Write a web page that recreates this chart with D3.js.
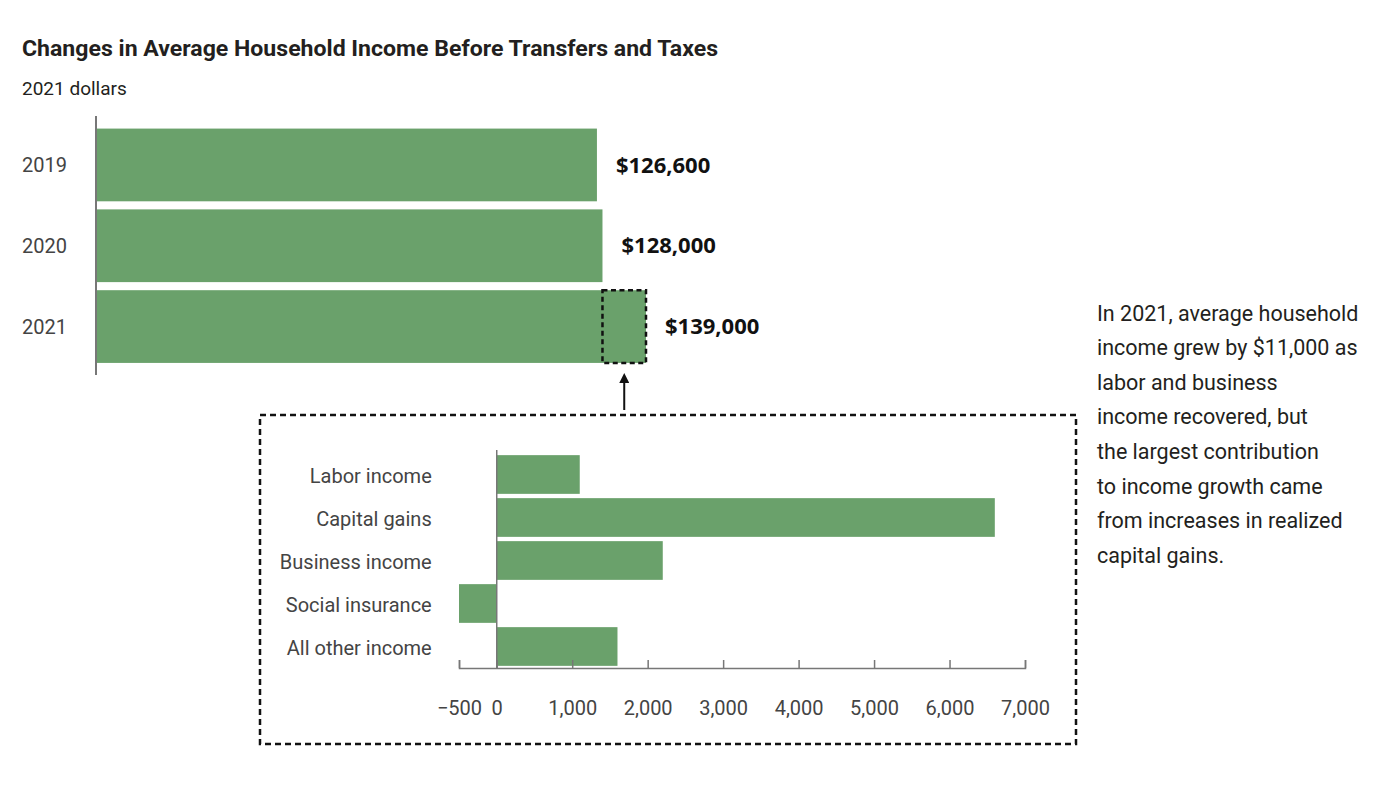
<!DOCTYPE html>
<html>
<head>
<meta charset="utf-8">
<script src="https://cdn.jsdelivr.net/npm/d3@7"></script>
<style>
  body { margin: 0; background: #fff; }
  svg text { font-family: Roboto, "Open Sans", sans-serif; }
</style>
</head>
<body>
<svg id="chart" width="1386" height="786"></svg>
<script>
// top chart: average household income, 2021 dollars
const years = ["2019", "2020", "2021"];
const incomes = [126600, 128000, 139000];
const valueLabels = ["$126,600", "$128,000", "$139,000"];

// bottom chart: contributions to the 2021 change
const sources = ["Labor income", "Capital gains", "Business income", "Social insurance", "All other income"];
const changes = [1100, 6600, 2200, -500, 1600];
const changeTicks = [-500, 0, 1000, 2000, 3000, 4000, 5000, 6000, 7000];

const note = [
  "In 2021, average household",
  "income grew by $11,000 as",
  "labor and business",
  "income recovered, but",
  "the largest contribution",
  "to income growth came",
  "from increases in realized",
  "capital gains."
];

const green = "#6aa16b";
const axisGrey = "#777";

const svg = d3.select("#chart");

// titles
svg.append("text")
    .attr("x", 22).attr("y", 56)
    .attr("font-size", 22).attr("font-weight", 700)
    .attr("fill", "#231f20")
    .attr("textLength", 696).attr("lengthAdjust", "spacingAndGlyphs")
    .text("Changes in Average Household Income Before Transfers and Taxes");

svg.append("text")
    .attr("x", 22).attr("y", 95)
    .attr("font-size", 19)
    .attr("fill", "#231f20")
    .text("2021 dollars");

// ---- top bars
const xTop = d3.scaleLinear().domain([0, 139000]).range([96, 646]);
const yTop = d3.scaleBand().domain(years).range([120.5, 371]).paddingInner(0.1).paddingOuter(0.1);

const topG = svg.append("g");

topG.selectAll("rect.bar")
  .data(years)
  .join("rect")
    .attr("class", "bar")
    .attr("x", xTop(0))
    .attr("y", d => yTop(d))
    .attr("width", (d, i) => xTop(incomes[i]) - xTop(0))
    .attr("height", yTop.bandwidth())
    .attr("fill", green);

topG.append("line")
    .attr("x1", xTop(0)).attr("x2", xTop(0))
    .attr("y1", 116).attr("y2", 375)
    .attr("stroke", axisGrey).attr("stroke-width", 2);

topG.selectAll("text.year")
  .data(years)
  .join("text")
    .attr("class", "year")
    .attr("x", 22)
    .attr("y", d => yTop(d) + yTop.bandwidth() / 2)
    .attr("dy", "0.35em")
    .attr("font-size", 20)
    .attr("fill", "#444")
    .text(d => d);

topG.selectAll("text.value")
  .data(years)
  .join("text")
    .attr("class", "value")
    .attr("x", (d, i) => xTop(incomes[i]) + 19)
    .attr("y", d => yTop(d) + yTop.bandwidth() / 2)
    .attr("dy", "0.35em")
    .attr("font-size", 22).attr("font-weight", 700)
    .style("font-family", "'Open Sans', sans-serif")
    .attr("fill", "#111")
    .text((d, i) => valueLabels[i]);

// highlighted growth 2020 -> 2021
const hx0 = xTop(incomes[1]), hx1 = xTop(incomes[2]);
topG.append("rect")
    .attr("x", hx0).attr("y", yTop("2021"))
    .attr("width", hx1 - hx0).attr("height", yTop.bandwidth())
    .attr("fill", "none")
    .attr("stroke", "#111").attr("stroke-width", 2.5)
    .attr("stroke-dasharray", "5,3.5");

svg.append("defs").append("marker")
    .attr("id", "arrow")
    .attr("viewBox", "0 0 10 10")
    .attr("refX", 5).attr("refY", 5)
    .attr("markerWidth", 5).attr("markerHeight", 5)
    .attr("orient", "auto")
  .append("path")
    .attr("d", "M0,0 L10,5 L0,10 z")
    .attr("fill", "#111");

topG.append("line")
    .attr("x1", (hx0 + hx1) / 2).attr("x2", (hx0 + hx1) / 2)
    .attr("y1", 410).attr("y2", 378)
    .attr("stroke", "#111").attr("stroke-width", 2)
    .attr("marker-end", "url(#arrow)");

// ---- detail box
svg.append("rect")
    .attr("x", 260).attr("y", 415)
    .attr("width", 816).attr("height", 329)
    .attr("fill", "none")
    .attr("stroke", "#111").attr("stroke-width", 2.5)
    .attr("stroke-dasharray", "6,4");

const xB = d3.scaleLinear().domain([-500, 7000]).range([459, 1025]);
const yB = d3.scaleBand().domain(sources).range([453, 668]).paddingInner(0.1).paddingOuter(0.05);

const bottomG = svg.append("g");

bottomG.selectAll("rect")
  .data(sources)
  .join("rect")
    .attr("x", (d, i) => xB(Math.min(0, changes[i])))
    .attr("y", d => yB(d))
    .attr("width", (d, i) => Math.abs(xB(changes[i]) - xB(0)))
    .attr("height", yB.bandwidth())
    .attr("fill", green);

const yAxisB = bottomG.append("g")
    .attr("transform", `translate(${xB(0)},0)`)
    .call(d3.axisLeft(yB).tickSize(0).tickPadding(65));
yAxisB.select(".domain").attr("stroke", axisGrey).attr("stroke-width", 1.5)
    .attr("d", `M0,450V668`);
yAxisB.selectAll("text")
    .attr("font-size", 20).attr("fill", "#444")
    .attr("dy", "0.42em")
    .style("font-family", "Roboto, sans-serif");

const xAxisB = bottomG.append("g")
    .attr("transform", "translate(0,668)")
    .call(d3.axisBottom(xB)
      .tickValues(changeTicks)
      .tickFormat(d3.format(","))
      .tickSizeInner(-8).tickSizeOuter(-8)
      .tickPadding(33));
xAxisB.select(".domain").attr("stroke", axisGrey).attr("stroke-width", 1.5);
xAxisB.selectAll(".tick line").attr("stroke", axisGrey).attr("stroke-width", 1.5);
xAxisB.selectAll("text")
    .attr("font-size", 20).attr("fill", "#444")
    .style("font-family", "Roboto, sans-serif");

// ---- note
svg.append("text")
    .attr("x", 1097).attr("y", 313)
    .attr("font-size", 21.5)
    .attr("fill", "#231f20")
  .selectAll("tspan")
  .data(note)
  .join("tspan")
    .attr("x", 1097)
    .attr("y", (d, i) => 313 + i * 34.6)
    .attr("dy", "0.35em")
    .text(d => d);
</script>
</body>
</html>
